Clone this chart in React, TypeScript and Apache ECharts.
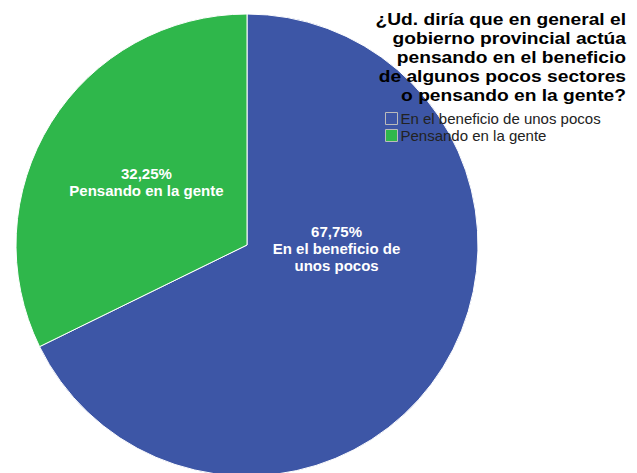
import React, { useEffect, useRef } from "react";
import * as echarts from "echarts";

const categories = ["En el beneficio de unos pocos", "Pensando en la gente"];
const values = [67.75, 32.25];
const sliceLabels = ["67,75%\nEn el beneficio de\nunos pocos", "32,25%\nPensando en la gente"];
const colors = ["#3D56A6", "#2FB74B"];
const titleText =
  "¿Ud. diría que en general el\ngobierno provincial actúa\npensando en el beneficio\nde algunos pocos sectores\no pensando en la gente?";

const FONT = "Liberation Sans, Arial, sans-serif";

export default function App() {
  const ref = useRef<HTMLDivElement>(null);
  useEffect(() => {
    if (!ref.current) return;
    const chart = echarts.init(ref.current, null, { renderer: "svg" });
    chart.setOption({
      animation: false,
      backgroundColor: "#ffffff",
      graphic: [
        {
          type: "text",
          x: 626,
          y: 10,
          scaleX: 1.2,
          z: 100,
          style: {
            text: titleText,
            align: "right",
            verticalAlign: "top",
            fontFamily: FONT,
            fontSize: 16,
            fontWeight: "bold",
            lineHeight: 19,
            fill: "#000",
          },
        },
      ],
      legend: {
        orient: "vertical",
        left: 385,
        top: 111,
        padding: 0,
        itemWidth: 12,
        itemHeight: 12,
        itemGap: 2,
        icon: "rect",
        itemStyle: { borderColor: "#bbbbbb", borderWidth: 1 },
        textStyle: {
          fontFamily: FONT,
          fontSize: 15,
          color: "#222",
          padding: [2, 0, 0, -2],
        },
        data: categories,
      },
      series: [
        {
          type: "pie",
          center: [247, 245],
          radius: 231,
          startAngle: 90,
          clockwise: true,
          avoidLabelOverlap: false,
          itemStyle: { borderColor: "#ffffff", borderWidth: 1 },
          label: {
            show: true,
            position: "inside",
            color: "#ffffff",
            fontFamily: FONT,
            fontSize: 15,
            fontWeight: "bold",
            lineHeight: 17,
            align: "center",
          },
          labelLayout: (p: any) =>
            p.dataIndex === 0 ? { dx: -11, dy: -59 } : { dx: 0, dy: 0 },
          emphasis: { disabled: true },
          data: categories.map((c, i) => ({
            name: c,
            value: values[i],
            itemStyle: { color: colors[i] },
            label: { formatter: sliceLabels[i] },
          })),
        },
      ],
    });
    return () => chart.dispose();
  }, []);
  return (
    <div
      ref={ref}
      style={{ position: "fixed", left: 0, top: 0, width: 637, height: 473 }}
    />
  );
}
